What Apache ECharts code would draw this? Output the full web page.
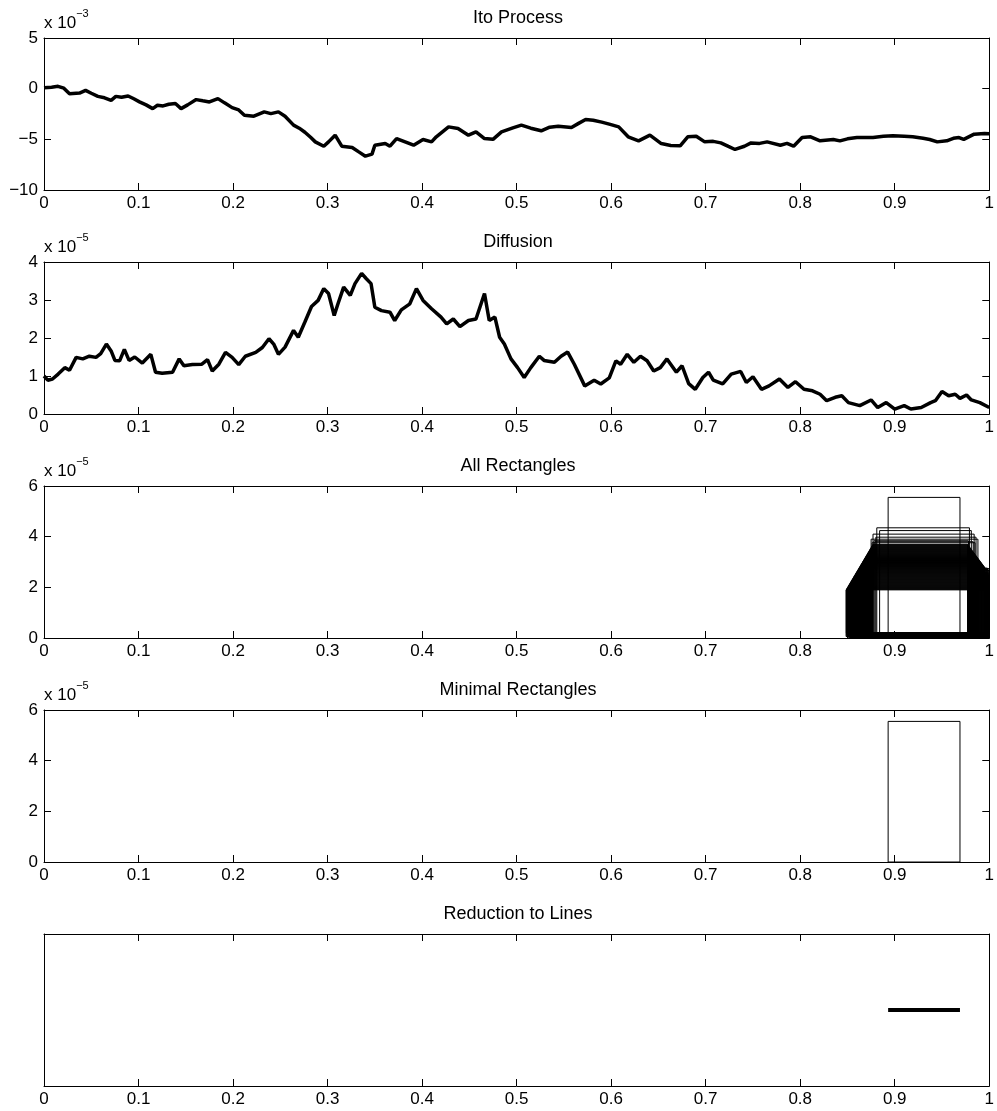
<!DOCTYPE html>
<html>
<head>
<meta charset="utf-8">
<script src="https://cdn.jsdelivr.net/npm/echarts@6/dist/echarts.min.js"></script>
<style>
html, body { margin: 0; padding: 0; background: #fff; }
#chart { width: 997px; height: 1111px; }
</style>
</head>
<body>
<div id="chart"></div>
<script>
// values
// Ito process, y in units of 1e-3
var itoT = [0, 0.008, 0.0148, 0.021, 0.027, 0.0376, 0.044, 0.05, 0.057, 0.064, 0.071, 0.076, 0.082, 0.089, 0.095,
  0.101, 0.108, 0.115, 0.12, 0.126, 0.132, 0.139, 0.145, 0.152, 0.161, 0.168, 0.175, 0.184, 0.191, 0.199,
  0.206, 0.212, 0.222, 0.233, 0.24, 0.248, 0.255, 0.264, 0.27, 0.276, 0.282, 0.287, 0.296, 0.301, 0.308,
  0.315, 0.326, 0.333, 0.34, 0.347, 0.35, 0.361, 0.366, 0.373, 0.382, 0.391, 0.401, 0.41, 0.415, 0.428,
  0.438, 0.449, 0.457, 0.466, 0.475, 0.484, 0.496, 0.505, 0.515, 0.526, 0.535, 0.544, 0.558, 0.566, 0.573,
  0.581, 0.59, 0.598, 0.608, 0.618, 0.629, 0.641, 0.653, 0.663, 0.673, 0.681, 0.69, 0.699, 0.708, 0.716,
  0.724, 0.731, 0.741, 0.748, 0.757, 0.765, 0.779, 0.786, 0.793, 0.802, 0.811, 0.821, 0.835, 0.842, 0.85,
  0.86, 0.877, 0.888, 0.898, 0.91, 0.919, 0.93, 0.937, 0.945, 0.955, 0.962, 0.968, 0.973, 0.984, 0.995, 1.0];
var itoV = [0.1, 0.15, 0.23, 0.05, -0.5, -0.43, -0.17, -0.45, -0.76, -0.9, -1.15, -0.76, -0.85, -0.72, -1.0,
  -1.3, -1.6, -1.97, -1.64, -1.7, -1.54, -1.47, -1.97, -1.6, -1.08, -1.2, -1.31, -0.98, -1.4, -1.87,
  -2.1, -2.62, -2.72, -2.29, -2.46, -2.29, -2.72, -3.6, -3.9, -4.3, -4.8, -5.25, -5.68, -5.25, -4.59,
  -5.68, -5.8, -6.24, -6.66, -6.46, -5.58, -5.42, -5.68, -4.92, -5.25, -5.58, -5.02, -5.25, -4.75, -3.77,
  -3.93, -4.59, -4.26, -4.92, -5.0, -4.26, -3.87, -3.6, -3.9, -4.16, -3.8, -3.7, -3.83, -3.4, -3.05,
  -3.11, -3.3, -3.5, -3.77, -4.75, -5.15, -4.59, -5.42, -5.6, -5.64, -4.75, -4.69, -5.25, -5.2, -5.35,
  -5.7, -6.0, -5.68, -5.35, -5.4, -5.25, -5.58, -5.4, -5.68, -4.82, -4.75, -5.15, -5.02, -5.15, -4.95,
  -4.82, -4.82, -4.7, -4.65, -4.7, -4.75, -4.9, -5.02, -5.25, -5.15, -4.9, -4.82, -5.0, -4.49, -4.43, -4.45];

// diffusion, y in units of 1e-5
var diffT = [0, 0.004, 0.009, 0.015, 0.022, 0.027, 0.034, 0.041, 0.048, 0.055, 0.06, 0.066, 0.071, 0.075, 0.08,
  0.085, 0.09, 0.096, 0.104, 0.113, 0.118, 0.125, 0.136, 0.143, 0.148, 0.157, 0.167, 0.173, 0.178, 0.185,
  0.192, 0.199, 0.206, 0.213, 0.224, 0.231, 0.238, 0.243, 0.248, 0.255, 0.264, 0.269, 0.276, 0.283, 0.29,
  0.296, 0.301, 0.307, 0.311, 0.317, 0.324, 0.329, 0.336, 0.341, 0.346, 0.35, 0.357, 0.366, 0.371, 0.378,
  0.387, 0.394, 0.401, 0.41, 0.42, 0.426, 0.433, 0.44, 0.449, 0.457, 0.466, 0.471, 0.477, 0.482, 0.487,
  0.494, 0.501, 0.508, 0.515, 0.524, 0.529, 0.54, 0.547, 0.554, 0.561, 0.572, 0.582, 0.589, 0.598, 0.605,
  0.61, 0.617, 0.624, 0.631, 0.638, 0.645, 0.652, 0.659, 0.669, 0.675, 0.682, 0.689, 0.697, 0.703, 0.708,
  0.718, 0.727, 0.737, 0.743, 0.75, 0.759, 0.767, 0.778, 0.787, 0.795, 0.804, 0.813, 0.821, 0.828, 0.837,
  0.844, 0.851, 0.863, 0.875, 0.882, 0.891, 0.9, 0.91, 0.917, 0.928, 0.938, 0.943, 0.95, 0.957, 0.964,
  0.969, 0.976, 0.981, 0.99, 1.0];
var diffV = [1.0, 0.89, 0.92, 1.05, 1.22, 1.15, 1.49, 1.45, 1.52, 1.49, 1.59, 1.84, 1.66, 1.41, 1.4,
  1.7, 1.41, 1.5, 1.34, 1.57, 1.1, 1.07, 1.1, 1.45, 1.27, 1.3, 1.31, 1.43, 1.13, 1.31,
  1.62, 1.49, 1.3, 1.52, 1.62, 1.75, 1.98, 1.84, 1.57, 1.76, 2.2, 2.02, 2.42, 2.83, 2.99,
  3.3, 3.17, 2.59, 2.9, 3.34, 3.12, 3.43, 3.7, 3.56, 3.43, 2.81, 2.72, 2.68, 2.46, 2.74,
  2.9, 3.3, 2.99, 2.77, 2.55, 2.37, 2.5, 2.3, 2.46, 2.5, 3.17, 2.46, 2.55, 2.02, 1.84,
  1.45, 1.22, 0.96, 1.22, 1.52, 1.41, 1.36, 1.52, 1.63, 1.31, 0.74, 0.89, 0.79, 0.95, 1.4,
  1.31, 1.57, 1.36, 1.52, 1.4, 1.13, 1.22, 1.45, 1.1, 1.27, 0.8, 0.65, 0.96, 1.1, 0.89,
  0.79, 1.05, 1.12, 0.83, 0.98, 0.65, 0.74, 0.92, 0.7, 0.85, 0.65, 0.61, 0.52, 0.35, 0.44,
  0.48, 0.3, 0.22, 0.37, 0.17, 0.3, 0.13, 0.22, 0.13, 0.17, 0.3, 0.35, 0.59, 0.48, 0.52,
  0.41, 0.5, 0.37, 0.3, 0.17];

// all rectangles: left, right, bottom, top (top in units of 1e-5)
var rectLeft = [0.893, 0.881, 0.884, 0.877, 0.880, 0.875, 0.878, 0.879, 0.876,
  0.8770, 0.8767, 0.8764, 0.8760, 0.8757, 0.8754, 0.8751, 0.8748, 0.8745, 0.8741,
  0.8738, 0.8735, 0.8732, 0.8729, 0.8726, 0.8722, 0.8719, 0.8716, 0.8713, 0.8710,
  0.8707, 0.8703, 0.8700, 0.8697, 0.8694, 0.8691, 0.8688, 0.8684, 0.8681, 0.8678,
  0.8675, 0.8672, 0.8669, 0.8665, 0.8662, 0.8659, 0.8656, 0.8653, 0.8650, 0.8646,
  0.8643, 0.8640, 0.8637, 0.8634, 0.8631, 0.8627, 0.8624, 0.8621, 0.8618, 0.8615,
  0.8612, 0.8608, 0.8605, 0.8602, 0.8599, 0.8596, 0.8592, 0.8589, 0.8586, 0.8583,
  0.8580, 0.8577, 0.8573, 0.8570, 0.8567, 0.8564, 0.8561, 0.8558, 0.8554, 0.8551,
  0.8548, 0.8545, 0.8542, 0.8539, 0.8535, 0.8532, 0.8529, 0.8526, 0.8523, 0.8520,
  0.8516, 0.8513, 0.8510, 0.8507, 0.8504, 0.8501, 0.8497, 0.8494, 0.8491, 0.8488, 0.8485];
var rectRight = [0.969, 0.979, 0.981, 0.984, 0.986, 0.988, 0.978, 0.983, 0.985,
  0.9770, 0.9774, 0.9778, 0.9782, 0.9786, 0.9790, 0.9794, 0.9798, 0.9802, 0.9806,
  0.9810, 0.9814, 0.9818, 0.9822, 0.9826, 0.9830, 0.9834, 0.9838, 0.9842, 0.9846,
  0.9850, 0.9854, 0.9858, 0.9862, 0.9866, 0.9870, 0.9874, 0.9878, 0.9882, 0.9886,
  0.9890, 0.9894, 0.9898, 0.9902, 0.9906, 0.9910, 0.9914, 0.9918, 0.9922, 0.9926,
  0.9930, 0.9934, 0.9938, 0.9942, 0.9946, 0.9950,
  0.9955, 0.998, 1.0, 0.997, 0.999, 0.9965, 1.0, 0.9985, 0.996,
  0.9955, 0.998, 1.0, 0.997, 0.999, 0.9965, 1.0, 0.9985, 0.996,
  0.9955, 0.998, 1.0, 0.997, 0.999, 0.9965, 1.0, 0.9985, 0.996,
  0.9955, 0.998, 1.0, 0.997, 0.999, 0.9965, 1.0, 0.9985, 0.996,
  0.9955, 0.998, 1.0, 0.997, 0.999, 0.9965, 1.0, 0.9985, 0.996];
var rectBottom = [0, 0, 0.05, 0.1, 0.02, 0.15, 0.08, 0.12, 0.04,
  0.20, 0.02, 0.15, 0.05, 0.18, 0.08, 0.12, 0.00, 0.16, 0.04, 0.10, 0.19, 0.06,
  0.20, 0.02, 0.15, 0.05, 0.18, 0.08, 0.12, 0.00, 0.16, 0.04, 0.10, 0.19, 0.06,
  0.20, 0.02, 0.15, 0.05, 0.18, 0.08, 0.12, 0.00, 0.16, 0.04, 0.10, 0.19, 0.06,
  0.20, 0.02, 0.15, 0.05, 0.18, 0.08, 0.12, 0.00, 0.16, 0.04, 0.10, 0.19, 0.06,
  0.20, 0.02, 0.15, 0.05, 0.18, 0.08, 0.12, 0.00, 0.16, 0.04, 0.10, 0.19, 0.06,
  0.20, 0.02, 0.15, 0.05, 0.18, 0.08, 0.12, 0.00, 0.16, 0.04, 0.10, 0.19, 0.06,
  0.20, 0.02, 0.15, 0.05, 0.18, 0.08, 0.12, 0.00, 0.16, 0.04, 0.10, 0.19, 0.06];
var rectTop = [5.55, 4.35, 4.24, 4.1, 3.98, 3.9, 3.84, 3.8, 3.76,
  3.70, 3.68, 3.66, 3.64, 3.62, 3.60, 3.58, 3.56, 3.54, 3.52,
  3.50, 3.48, 3.46, 3.44, 3.42, 3.40, 3.38, 3.36, 3.34, 3.32,
  3.30, 3.28, 3.26, 3.24, 3.22, 3.20, 3.18, 3.16, 3.14, 3.12,
  3.10, 3.08, 3.06, 3.04, 3.02, 3.00, 2.98, 2.96, 2.94, 2.92,
  2.90, 2.88, 2.86, 2.84, 2.82, 2.80, 2.78, 2.76, 2.74, 2.72,
  2.70, 2.68, 2.66, 2.64, 2.62, 2.60, 2.58, 2.56, 2.54, 2.52,
  2.50, 2.48, 2.46, 2.44, 2.42, 2.40, 2.38, 2.36, 2.34, 2.32,
  2.30, 2.28, 2.26, 2.24, 2.22, 2.20, 2.18, 2.16, 2.14, 2.12,
  2.10, 2.08, 2.06, 2.04, 2.02, 2.00, 1.98, 1.96, 1.94, 1.92, 1.90];

// minimal rectangle and its reduction to a line
var minLeft = [0.893], minRight = [0.969], minBottom = [0], minTop = [5.55];
var lineStart = 0.893, lineEnd = 0.969;

var titles = ['Ito Process', 'Diffusion', 'All Rectangles', 'Minimal Rectangles', 'Reduction to Lines'];
// min, max, interval, exponent shown above the axis
var yRanges = [[-10, 5, 5, '\u22123'], [0, 4, 1, '\u22125'], [0, 6, 2, '\u22125'], [0, 6, 2, '\u22125'], [-1, 1, 1, null]];

var gridTops = [38, 262, 486, 710, 934];
var font = 'Liberation Sans, Arial, Helvetica, sans-serif';

function zip(a, b) {
  var out = [];
  for (var i = 0; i < a.length; i++) out.push([a[i], b[i]]);
  return out;
}
function rects(l, r, b, t) {
  var out = [];
  for (var i = 0; i < l.length; i++) out.push([l[i], r[i], b[i], t[i]]);
  return out;
}
function minus(v) { return String(v).replace('-', '\u2212'); }

var grids = [], xAxes = [], yAxes = [], titleList = [];
for (var i = 0; i < 5; i++) {
  grids.push({ left: 44, right: 4, top: gridTops[i], height: 152 });
  titleList.push({
    text: titles[i], left: 518, top: gridTops[i] - 29, textAlign: 'center', padding: 0,
    textStyle: { fontFamily: font, fontSize: 18, fontWeight: 'normal', color: '#000' }
  });
  var line = { show: true, onZero: false, lineStyle: { color: '#000', width: 1 } };
  var tick = { show: true, inside: true, length: 7, lineStyle: { color: '#000', width: 1 } };
  xAxes.push({
    gridIndex: i, type: 'value', min: 0, max: 1, interval: 0.1, position: 'bottom',
    axisLine: line, axisTick: tick, splitLine: { show: false },
    axisLabel: { show: true, margin: 5, color: '#000', fontFamily: font, fontSize: 17 }
  });
  xAxes.push({
    gridIndex: i, type: 'value', min: 0, max: 1, interval: 0.1, position: 'top',
    axisLine: line, axisTick: tick, splitLine: { show: false }, axisLabel: { show: false }
  });
  var yr = yRanges[i];
  var hasY = yr[3] !== null;
  yAxes.push({
    gridIndex: i, type: 'value', min: yr[0], max: yr[1], interval: yr[2], position: 'left',
    axisLine: line, axisTick: hasY ? tick : { show: false }, splitLine: { show: false },
    axisLabel: { show: hasY, margin: 6, color: '#000', fontFamily: font, fontSize: 17, formatter: minus },
    name: hasY ? '{b|x 10}{s|' + yr[3] + '}' : '',
    nameLocation: 'end', nameGap: 6,
    nameTextStyle: {
      align: 'left', verticalAlign: 'bottom', color: '#000',
      rich: {
        b: { fontFamily: font, fontSize: 17, color: '#000', verticalAlign: 'bottom', lineHeight: 24 },
        s: { fontFamily: font, fontSize: 11, color: '#000', verticalAlign: 'top', lineHeight: 24 }
      }
    }
  });
  yAxes.push({
    gridIndex: i, type: 'value', min: yr[0], max: yr[1], interval: yr[2], position: 'right',
    axisLine: line, axisTick: hasY ? tick : { show: false }, splitLine: { show: false }, axisLabel: { show: false }
  });
}

function rectSeries(idx, data) {
  return {
    type: 'custom', xAxisIndex: idx * 2, yAxisIndex: idx * 2, clip: true,
    encode: { x: [0, 1], y: [2, 3] },
    data: data,
    renderItem: function (params, api) {
      var p0 = api.coord([api.value(0), api.value(3)]);
      var p1 = api.coord([api.value(1), api.value(2)]);
      return {
        type: 'rect',
        shape: { x: p0[0], y: p0[1], width: p1[0] - p0[0], height: p1[1] - p0[1] },
        style: { fill: 'transparent', stroke: '#000', lineWidth: 1 }
      };
    }
  };
}

var myChart = echarts.init(document.getElementById('chart'), null, { renderer: 'canvas' });
var option = {
  animation: false,
  backgroundColor: '#fff',
  title: titleList,
  grid: grids,
  xAxis: xAxes,
  yAxis: yAxes,
  series: [
    {
      type: 'line', xAxisIndex: 0, yAxisIndex: 0, showSymbol: false,
      data: zip(itoT, itoV), lineStyle: { color: '#000', width: 3.5 }
    },
    {
      type: 'line', xAxisIndex: 2, yAxisIndex: 2, showSymbol: false,
      data: zip(diffT, diffV), lineStyle: { color: '#000', width: 3.5 }
    },
    rectSeries(2, rects(rectLeft, rectRight, rectBottom, rectTop)),
    rectSeries(3, rects(minLeft, minRight, minBottom, minTop)),
    {
      type: 'line', xAxisIndex: 8, yAxisIndex: 8, showSymbol: false,
      data: [[lineStart, 0], [lineEnd, 0]], lineStyle: { color: '#000', width: 4 }
    }
  ]
};
myChart.setOption(option);
</script>
</body>
</html>
